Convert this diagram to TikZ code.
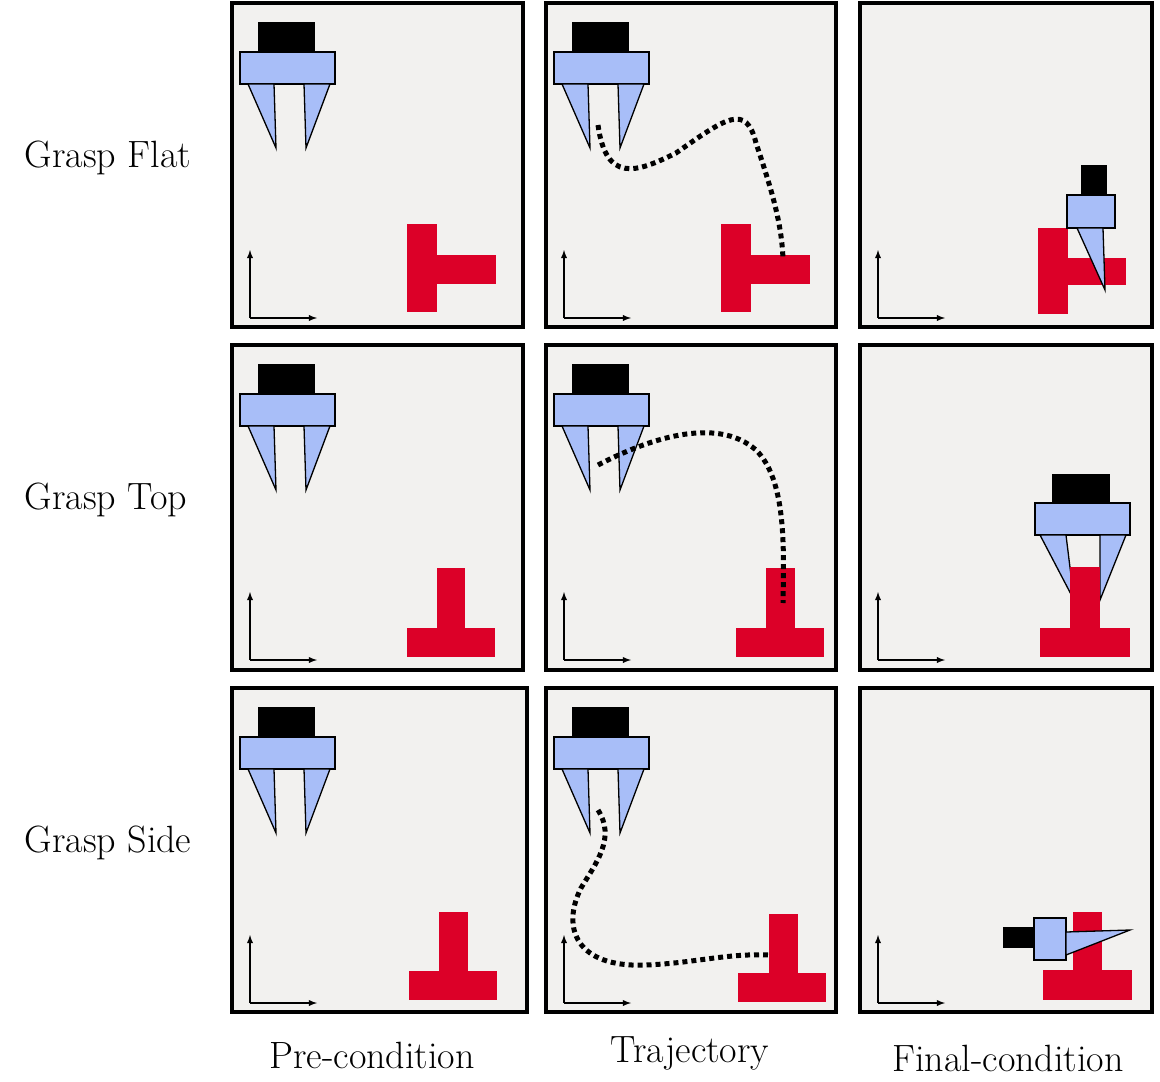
\documentclass[tikz,border=0pt]{standalone}
\usepackage{tikz}
\definecolor{panelgray}{HTML}{F2F1EF}
\definecolor{tred}{HTML}{DC0028}
\definecolor{gblue}{HTML}{A8BEF8}
\tikzset{
  panel/.style={draw=black, line width=4, fill=panelgray},
  part/.style={fill=tred, draw=none},
  gbody/.style={fill=gblue, draw=black, line width=1.3},
  traj/.style={line width=5, dash pattern=on 5 off 4},
  axis/.style={line width=1.8, -latex},
  lbl/.style={font=\fontsize{38}{40}\selectfont}
}
% gripper at the top left of a panel
\newcommand{\opengripper}{
\fill[black] (26,19) rectangle (83,49);
\draw[gbody] (8,49) rectangle (103,81);
\draw[gbody] (16,81) -- (42,81) -- (44,145) -- cycle;
\draw[gbody] (72,81) -- (98,81) -- (74,145) -- cycle;
}
\newcommand{\axes}{
\draw[axis] (18,315) -- (18,247);
\draw[axis] (18,315) -- (85,315);
}
\begin{document}
\begin{tikzpicture}[x=1pt, y=-1pt]
\useasboundingbox (0,0) rectangle (1160,1082);

% grasp flat
\begin{scope}[shift={(232,3)}]
\draw[panel] (0,0) rectangle (291,324);
\opengripper \axes
\fill[part] (175,221) rectangle (205,309);
\fill[part] (205,252) rectangle (264,281);
\end{scope}
\begin{scope}[shift={(546,3)}]
\draw[panel] (0,0) rectangle (290,324);
\opengripper \axes
\fill[part] (175,221) rectangle (205,309);
\fill[part] (205,252) rectangle (264,281);
\draw[traj] (52,122) .. controls (60,180) and (90,170) .. (130,150)
  .. controls (180,115) and (200,100) .. (210,140) .. controls (225,185) and (236,220) .. (237,257);
\end{scope}
\begin{scope}[shift={(860,3)}]
\draw[panel] (0,0) rectangle (292,324);
\axes
\fill[part] (178,225) rectangle (208,311);
\fill[part] (208,255) rectangle (266,282);
\fill[black] (221,162) rectangle (247,192);
\draw[gbody] (207,192) rectangle (255,225);
\draw[gbody] (217,225) -- (243,225) -- (245,287) -- cycle;
\end{scope}

% grasp top
\begin{scope}[shift={(232,345)}]
\draw[panel] (0,0) rectangle (291,325);
\opengripper \axes
\fill[part] (205,223) rectangle (233,285);
\fill[part] (175,283) rectangle (263,312);
\end{scope}
\begin{scope}[shift={(546,345)}]
\draw[panel] (0,0) rectangle (290,325);
\opengripper \axes
\fill[part] (220,223) rectangle (249,285);
\fill[part] (190,283) rectangle (278,312);
\draw[traj] (52,120) .. controls (100,95) and (170,70) .. (210,105)
  .. controls (240,135) and (238,200) .. (237,258);
\end{scope}
\begin{scope}[shift={(860,345)}]
\draw[panel] (0,0) rectangle (292,325);
\axes
\fill[black] (192,129) rectangle (250,158);
\draw[gbody] (175,158) rectangle (270,190);
\draw[gbody] (180,190) -- (206,190) -- (214,255) -- cycle;
\draw[gbody] (240,190) -- (266,190) -- (240,255) -- cycle;
\fill[part] (210,222) rectangle (240,285);
\fill[part] (180,283) rectangle (270,312);
\end{scope}

% grasp side
\begin{scope}[shift={(232,688)}]
\draw[panel] (0,0) rectangle (295,324);
\opengripper \axes
\fill[part] (207,224) rectangle (236,285);
\fill[part] (177,283) rectangle (265,312);
\end{scope}
\begin{scope}[shift={(546,688)}]
\draw[panel] (0,0) rectangle (290,324);
\opengripper \axes
\fill[part] (223,226) rectangle (252,287);
\fill[part] (192,285) rectangle (280,314);
\draw[traj] (52,122) .. controls (70,150) and (50,175) .. (35,200)
  .. controls (15,240) and (30,280) .. (100,277) .. controls (150,275) and (180,265) .. (226,267);
\end{scope}
\begin{scope}[shift={(860,688)}]
\draw[panel] (0,0) rectangle (292,324);
\axes
\fill[part] (213,224) rectangle (242,282);
\fill[part] (183,282) rectangle (272,312);
\fill[black] (143,239) rectangle (175,260);
\draw[gbody] (174,230) rectangle (206,272);
\draw[gbody] (206,244) -- (270,242) -- (206,267) -- cycle;
\end{scope}

\node[lbl] (flat) at (108,158) {Grasp Flat};
\node[lbl] (top) at (106,500) {Grasp Top};
\node[lbl] (side) at (108,843) {Grasp Side};
\node[lbl] (pre) at (372,1055) {Pre-condition};
\node[lbl] (trj) at (690,1053) {Trajectory};
\node[lbl] (fin) at (1008,1058) {Final-condition};
\end{tikzpicture}
\end{document}
